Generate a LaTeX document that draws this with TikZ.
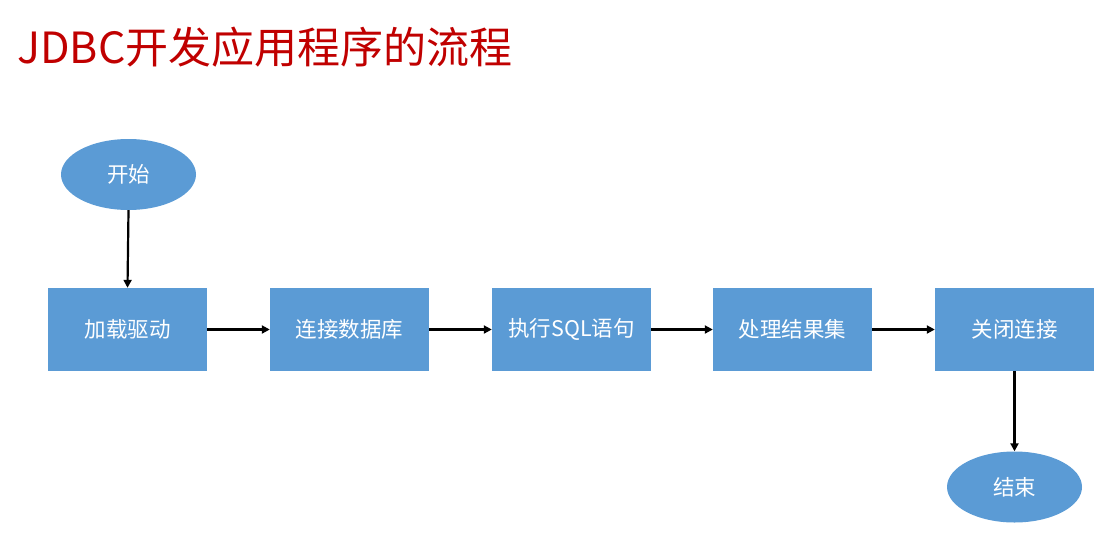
\documentclass[tikz,border=0pt]{standalone}
\usepackage{fontspec}
\setmainfont{Noto Sans CJK SC}
\usetikzlibrary{shapes.geometric,arrows.meta}
\definecolor{boxblue}{HTML}{5B9BD5}
\definecolor{titlered}{HTML}{C00000}
\tikzset{
  stepbox/.style={rectangle, fill=boxblue, draw=none, minimum width=159pt, minimum height=83pt, inner sep=0pt, text=white, font=\fontsize{21.5}{26}\selectfont},
  termnode/.style={ellipse, fill=boxblue, draw=none, minimum width=135pt, minimum height=71pt, inner sep=0pt, text=white, font=\fontsize{21.5}{26}\selectfont},
  flow/.style={line width=2.2pt, -{Triangle[length=8pt,width=8pt]}}
}
\begin{document}
\begin{tikzpicture}[x=1pt,y=-1pt]
\useasboundingbox (0,0) rectangle (1108,544);
\node[anchor=west, text=titlered, font=\fontsize{43}{50}\selectfont, inner sep=0pt] (title) at (17,47) {JDBC开发应用程序的流程};
\node[termnode] (start) at (128.5,174.5) {开始};
\node[stepbox] (s1) at (127.5,329.5) {加载驱动};
\node[stepbox] (s2) at (349.5,329.5) {连接数据库};
\node[stepbox] (s3) at (571.5,329.5) {执行SQL语句};
\node[stepbox] (s4) at (792.5,329.5) {处理结果集};
\node[stepbox] (s5) at (1014.5,329.5) {关闭连接};
\node[termnode] (end) at (1014.5,487) {结束};
\draw[flow] (start.south) -- (s1.north);
\draw[flow] (s1.east) -- (s2.west);
\draw[flow] (s2.east) -- (s3.west);
\draw[flow] (s3.east) -- (s4.west);
\draw[flow] (s4.east) -- (s5.west);
\draw[flow] (s5.south) -- (end.north);
\end{tikzpicture}
\end{document}
